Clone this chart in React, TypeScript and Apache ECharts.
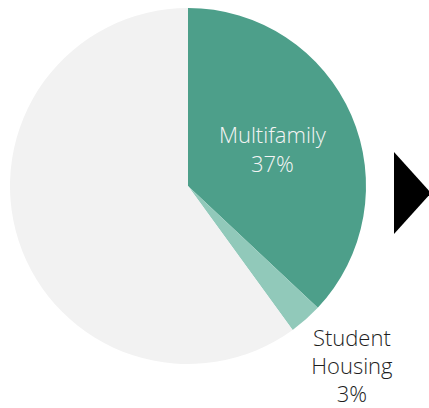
import React, { useEffect, useRef } from "react";
import * as echarts from "echarts";

const categories = ["Multifamily", "Student Housing", "Other"];
const values = [37, 3, 60];
const labelTexts = ["Multifamily\n37%", "Student\nHousing\n3%", ""];
const colors = ["#4d9f8a", "#91c9ba", "#f2f2f2"];

export default function App() {
  const ref = useRef<HTMLDivElement>(null);
  useEffect(() => {
    if (!ref.current) return;
    const chart = echarts.init(ref.current, null, { renderer: "svg" });
    const data = categories.map((name, i) => {
      const item: any = {
        name,
        value: values[i],
        itemStyle: { color: colors[i] },
        label: { show: labelTexts[i] !== "", formatter: labelTexts[i] },
      };
      if (i === 0) {
        item.label.color = "#f4f4f4";
        item.label.offset = [0, -1];
      }
      if (i === 1) {
        item.label.color = "#1e1e1e";
        item.label.lineHeight = 28;
        item.label.offset = [103, 110];
      }
      return item;
    });
    chart.setOption({
      animation: false,
      series: [
        {
          type: "pie",
          center: [188, 186],
          radius: [0, 178],
          startAngle: 90,
          clockwise: true,
          silent: true,
          label: {
            position: "inside",
            fontFamily: "Open Sans",
            fontWeight: 300,
            fontSize: 22,
            lineHeight: 29,
            align: "center",
          },
          labelLine: { show: false },
          itemStyle: { borderWidth: 0 },
          data,
        },
      ],
      graphic: [
        {
          type: "polygon",
          shape: { points: [[394, 152], [431, 193], [394, 234]] },
          style: { fill: "#000000" },
        },
      ],
    });
    return () => chart.dispose();
  }, []);
  return (
    <div
      ref={ref}
      style={{ position: "fixed", left: 0, top: 0, width: 429, height: 408, background: "#ffffff" }}
    />
  );
}
